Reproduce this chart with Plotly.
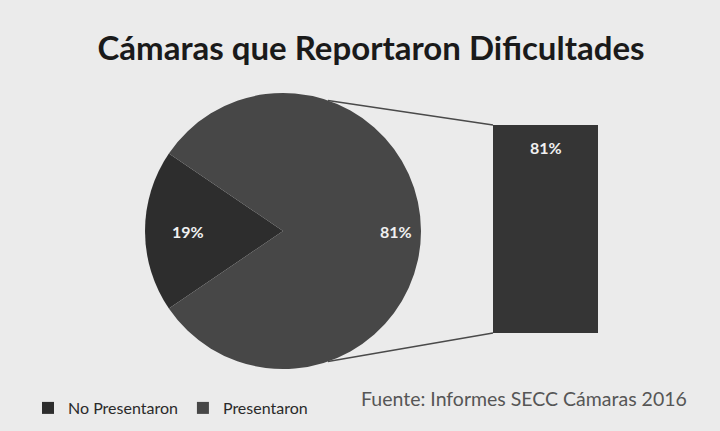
import math
import plotly.graph_objects as go

W, H = 720, 431

# ---- data ----
categories = ["No Presentaron", "Presentaron"]
values = [19, 81]
bar_category = ["Presentaron"]
bar_values = [81]
title_text = "Cámaras que Reportaron Dificultades"
source_text = "Fuente: Informes SECC Cámaras 2016"

# ---- style / geometry (pixels) ----
pie_cx, pie_cy, pie_r = 283, 231, 138
bar_x0, bar_x1, bar_top, bar_bot = 493, 598, 125, 333
slice_colors = ["#2d2d2d", "#474747"]
bar_color = "#353535"
bg = "#ebebeb"
label_font = dict(color="#f0f0f0", size=16, family="Lato", weight="bold")

def px(x):
    return x / W

def py(y):
    return 1 - y / H

total = sum(values)
first_span = 360 * values[0] / total
# centre the first slice on the left (180 deg)
start_math = 180 - first_span / 2
rotation = start_math - 90 + 180

fig = go.Figure()
fig.add_trace(go.Pie(
    labels=categories, values=values, sort=False,
    direction="counterclockwise", rotation=rotation,
    marker=dict(colors=slice_colors, line=dict(width=0)),
    textinfo="none", hoverinfo="label+percent",
    domain=dict(x=[px(pie_cx - pie_r), px(pie_cx + pie_r)],
                y=[py(pie_cy + pie_r), py(pie_cy - pie_r)]),
    showlegend=True,
))

fig.add_trace(go.Bar(
    x=bar_category, y=bar_values, width=1,
    marker=dict(color=bar_color, line=dict(width=0)),
    hoverinfo="y",
    showlegend=False, xaxis="x", yaxis="y",
))

annotations = []
# pie labels placed from the slice angles
acc = 0
for v in values:
    mid = start_math + 360 * (acc + v / 2) / total
    acc += v
    rr = pie_r * 0.82
    lx = pie_cx + rr * math.cos(math.radians(mid))
    ly = pie_cy - rr * math.sin(math.radians(mid))
    annotations.append(dict(
        x=px(lx), y=py(ly), xref="paper", yref="paper",
        text=f"{round(100 * v / total)}%", showarrow=False, font=label_font,
    ))

# bar label near the top
for c, v in zip(bar_category, bar_values):
    annotations.append(dict(x=c, y=v, xref="x", yref="y", yshift=-22,
                            text=f"{v}%", showarrow=False, font=label_font))

annotations.append(dict(
    x=px(359), y=py(412), xref="paper", yref="paper", xanchor="left",
    text=source_text, showarrow=False,
    font=dict(color="#565656", size=19.5, family="Lato"),
))

# connector lines from pie rim to the bar corners
conn_angle = 71
shapes = []
for sgn, by in ((1, bar_top), (-1, bar_bot)):
    a = math.radians(sgn * conn_angle)
    sx = pie_cx + pie_r * math.cos(a)
    sy = pie_cy - pie_r * math.sin(a)
    shapes.append(dict(type="line", xref="paper", yref="paper",
                       x0=px(sx), y0=py(sy), x1=px(bar_x0), y1=py(by),
                       line=dict(color="#4a4a4a", width=1.5)))

fig.update_layout(
    width=W, height=H,
    margin=dict(l=0, r=0, t=0, b=0),
    paper_bgcolor=bg, plot_bgcolor=bg,
    title=dict(text=title_text, x=px(371), xanchor="center", y=py(48), yanchor="middle",
               font=dict(family="Lato", size=33, color="#1a1a1a", weight="bold")),
    xaxis=dict(domain=[px(bar_x0), px(bar_x1)], range=[-0.5, 0.5], visible=False,
               fixedrange=True),
    yaxis=dict(domain=[py(bar_bot), py(bar_top)], range=[0, bar_values[0]], visible=False,
               fixedrange=True),
    legend=dict(orientation="h", x=px(28), y=py(408), xanchor="left", yanchor="middle",
                font=dict(family="Lato", size=16, color="#2a2a2a"),
                bgcolor="rgba(0,0,0,0)", itemwidth=30, tracegroupgap=0),
    annotations=annotations,
    shapes=shapes,
    showlegend=True,
)

fig.write_html("out.html",
               config={"displayModeBar": False},
               post_script="document.body.style.margin='0';"
                           "document.body.style.background='#ebebeb';")
